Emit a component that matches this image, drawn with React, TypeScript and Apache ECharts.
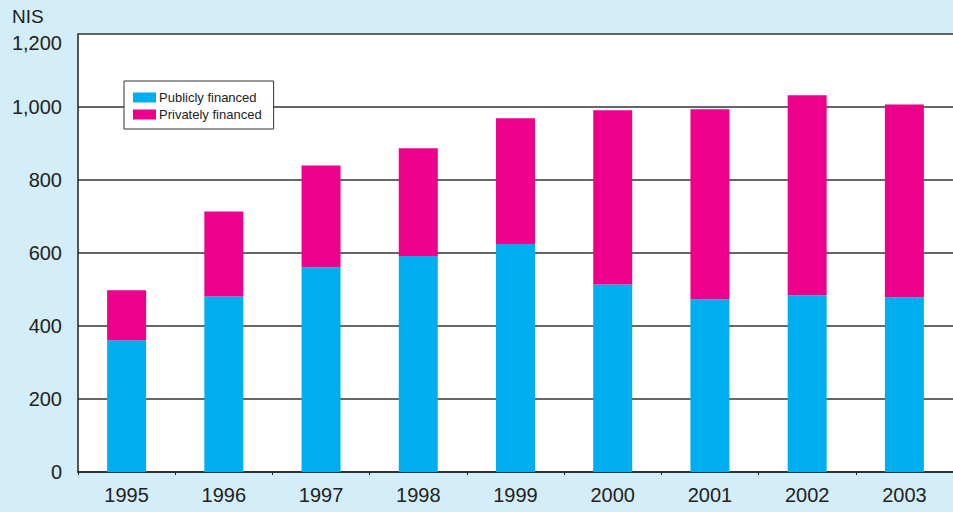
import React, { useEffect, useRef } from "react";
import * as echarts from "echarts";

const years = ["1995", "1996", "1997", "1998", "1999", "2000", "2001", "2002", "2003"];
const publiclyFinanced = [361, 481, 561, 592, 625, 514, 473, 484, 479];
const totalSpending = [498, 714, 840, 887, 969, 991, 994, 1032, 1007];
const privatelyFinanced = totalSpending.map((t, i) => t - publiclyFinanced[i]);
const yTicks = { min: 0, max: 1200, interval: 200 };

export default function App() {
  const ref = useRef<HTMLDivElement>(null);
  useEffect(() => {
    if (!ref.current) return;
    const chart = echarts.init(ref.current, undefined, { renderer: "svg" });
    const font = "'Liberation Sans', Arial, Helvetica, sans-serif";
    chart.setOption({
      animation: false,
      backgroundColor: "#d3edf9",
      textStyle: { fontFamily: font },
      graphic: [
        { type: "rect", shape: { x: 78, y: 34, width: 875, height: 438 }, style: { fill: "#ffffff" }, z: -10 },
        { type: "text", x: 12, y: 7, style: { text: "NIS", fontSize: 19, fill: "#222", fontFamily: font } },
      ],
      legend: {
        left: 124,
        top: 81,
        orient: "vertical",
        backgroundColor: "#ffffff",
        borderColor: "#333",
        borderWidth: 1,
        borderRadius: 0,
        padding: [10, 12, 8, 9],
        itemWidth: 23,
        itemHeight: 10,
        itemGap: 4,
        icon: "rect",
        textStyle: { fontSize: 13, color: "#222", fontFamily: font, padding: [0, 0, 0, -2] },
        data: ["Publicly financed", "Privately financed"],
      },
      grid: { left: 78, right: 0, top: 34, bottom: 40, containLabel: false },
      xAxis: {
        type: "category",
        data: years,
        axisLine: { show: true, lineStyle: { color: "#222", width: 1.5 } },
        axisTick: { show: true, length: 3, lineStyle: { color: "#222" } },
        axisLabel: { fontSize: 20, color: "#222", margin: 13, fontFamily: font },
      },
      yAxis: {
        type: "value",
        min: yTicks.min,
        max: yTicks.max,
        interval: yTicks.interval,
        axisLine: { show: true, lineStyle: { color: "#222", width: 1.5 } },
        axisTick: { show: false },
        axisLabel: {
          fontSize: 20,
          color: "#222",
          margin: 16,
          fontFamily: font,
          formatter: (v: number) =>
            v === yTicks.max ? "{top|" + v.toLocaleString("en-US") + "}" : v.toLocaleString("en-US"),
          rich: {
            top: { fontSize: 20, color: "#222", fontFamily: font, padding: [18, 0, 0, 0] },
          },
        },
        splitLine: { show: true, lineStyle: { color: "#333", width: 1.5 } },
      },
      series: [
        {
          name: "Publicly financed",
          type: "bar",
          stack: "total",
          data: publiclyFinanced,
          barWidth: 39,
          itemStyle: { color: "#00aeef" },
        },
        {
          name: "Privately financed",
          type: "bar",
          stack: "total",
          data: privatelyFinanced,
          barWidth: 39,
          itemStyle: { color: "#ec008c" },
        },
      ],
    });
    return () => chart.dispose();
  }, []);
  return (
    <div
      ref={ref}
      style={{ position: "fixed", left: 0, top: 0, width: 953, height: 512 }}
    />
  );
}
